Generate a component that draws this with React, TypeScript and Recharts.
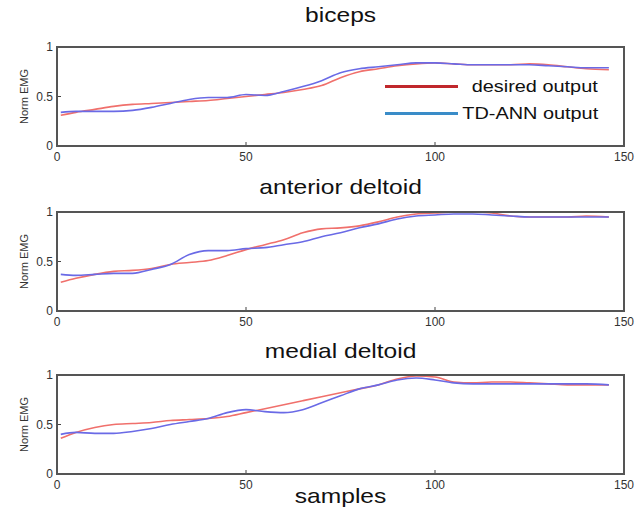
import React from 'react';
import { LineChart, Line, XAxis, YAxis } from 'recharts';

const samples = [1, 5, 10, 15, 20, 25, 30, 35, 40, 45, 50, 55, 60, 65, 70, 75, 80, 85, 90, 95, 100, 105, 110, 115, 120, 125, 130, 135, 140, 146];

const bicepsDesired = [0.31, 0.34, 0.37, 0.4, 0.42, 0.43, 0.44, 0.45, 0.46, 0.48, 0.5, 0.52, 0.54, 0.57, 0.61, 0.69, 0.75, 0.78, 0.81, 0.83, 0.84, 0.83, 0.82, 0.82, 0.82, 0.83, 0.82, 0.8, 0.78, 0.77];
const bicepsTdann = [0.34, 0.35, 0.35, 0.35, 0.36, 0.39, 0.43, 0.47, 0.49, 0.49, 0.52, 0.51, 0.55, 0.6, 0.66, 0.74, 0.78, 0.8, 0.82, 0.84, 0.84, 0.83, 0.82, 0.82, 0.82, 0.82, 0.81, 0.8, 0.79, 0.79];

const anteriorDesired = [0.29, 0.33, 0.37, 0.4, 0.41, 0.43, 0.47, 0.49, 0.51, 0.56, 0.62, 0.67, 0.72, 0.79, 0.83, 0.84, 0.86, 0.9, 0.95, 0.98, 0.99, 1.0, 1.0, 0.99, 0.96, 0.95, 0.95, 0.95, 0.96, 0.95];
const anteriorTdann = [0.37, 0.36, 0.37, 0.38, 0.38, 0.42, 0.47, 0.57, 0.61, 0.61, 0.63, 0.64, 0.67, 0.7, 0.75, 0.79, 0.84, 0.88, 0.93, 0.96, 0.97, 0.98, 0.98, 0.97, 0.96, 0.95, 0.95, 0.95, 0.95, 0.95];

const medialDesired = [0.36, 0.42, 0.47, 0.5, 0.51, 0.52, 0.54, 0.55, 0.56, 0.58, 0.62, 0.66, 0.7, 0.74, 0.78, 0.82, 0.86, 0.9, 0.96, 0.99, 0.98, 0.93, 0.92, 0.93, 0.93, 0.92, 0.91, 0.9, 0.9, 0.9];
const medialTdann = [0.4, 0.42, 0.41, 0.41, 0.43, 0.46, 0.5, 0.53, 0.56, 0.62, 0.65, 0.63, 0.62, 0.65, 0.72, 0.79, 0.86, 0.9, 0.95, 0.97, 0.95, 0.92, 0.91, 0.91, 0.91, 0.91, 0.91, 0.91, 0.91, 0.9];

const xTicks = [0, 50, 100, 150];
const yTicks = [0, 0.5, 1];
const xMax = 150;
const yMax = 1;
const titles = ['biceps', 'anterior deltoid', 'medial deltoid'];
const legendLabels = ['desired output', 'TD-ANN output'];
const xLabel = 'samples';
const yLabel = 'Norm EMG';

const FONT = 'Arial, "Liberation Sans", sans-serif';
const RED = '#f0706c';
const BLUE = '#6a6ae6';
const AXIS = '#444';

const CHART_W = 644;
const CHART_H = 140;
const MARGIN = { top: 17, right: 20, bottom: 4, left: 0 };
const Y_AXIS_W = 57;
const X_AXIS_H = 20;

function build(desired: number[], tdann: number[]) {
  return samples.map((x, i) => ({ x, desired: desired[i], tdann: tdann[i] }));
}

const tickStyle = { fontSize: 12, fill: '#333', fontFamily: FONT };
const axisLine = { stroke: AXIS, strokeWidth: 1.5 };
const tickLine = { stroke: AXIS };

function Panel({ data, top }: { data: any[]; top: number }) {
  const plotLeft = MARGIN.left + Y_AXIS_W;
  const plotTop = MARGIN.top;
  const plotW = CHART_W - MARGIN.right - plotLeft;
  const plotH = CHART_H - MARGIN.top - MARGIN.bottom - X_AXIS_H;
  return (
    <div style={{ position: 'absolute', left: 0, top, width: CHART_W, height: CHART_H }}>
      <LineChart width={CHART_W} height={CHART_H} data={data} margin={MARGIN}>
        <XAxis
          dataKey="x"
          type="number"
          domain={[0, xMax]}
          ticks={xTicks}
          height={X_AXIS_H}
          tickSize={-4}
          tickMargin={10}
          tick={tickStyle}
          axisLine={axisLine}
          tickLine={tickLine}
        />
        <YAxis
          type="number"
          domain={[0, yMax]}
          ticks={yTicks}
          width={Y_AXIS_W}
          tickSize={-4}
          tickMargin={8}
          tick={tickStyle}
          axisLine={axisLine}
          tickLine={tickLine}
          label={{ value: yLabel, angle: -90, position: 'insideLeft', offset: 24, style: { textAnchor: 'middle', fontSize: 11, fill: '#333', fontFamily: FONT } }}
        />
        <Line type="monotone" dataKey="desired" stroke={RED} strokeWidth={1.6} dot={false} isAnimationActive={false} />
        <Line type="monotone" dataKey="tdann" stroke={BLUE} strokeWidth={1.6} dot={false} isAnimationActive={false} />
      </LineChart>
      <div
        style={{
          position: 'absolute',
          left: plotLeft - 1,
          top: plotTop - 1,
          width: plotW + 2,
          height: plotH + 2,
          boxSizing: 'border-box',
          border: '2px solid #555',
          pointerEvents: 'none',
          zIndex: 2,
        }}
      />
    </div>
  );
}

function Title({ text, top }: { text: string; top: number }) {
  return (
    <div
      style={{
        position: 'absolute',
        left: 0,
        top,
        width: 681,
        textAlign: 'center',
        fontSize: 21,
        lineHeight: '26px',
        color: '#111',
        fontFamily: FONT,
        transform: 'scaleX(1.17)',
        transformOrigin: '340px 0',
      }}
    >
      {text}
    </div>
  );
}

function LegendRow({ color, label, top }: { color: string; label: string; top: number }) {
  return (
    <div style={{ position: 'absolute', left: 385, top, width: 213, height: 27, zIndex: 3 }}>
      <div style={{ position: 'absolute', left: 0, top: 12, width: 73, height: 3, background: color }} />
      <div
        style={{
          position: 'absolute',
          right: 0,
          top: 0,
          fontSize: 17,
          lineHeight: '27px',
          color: '#111',
          fontFamily: FONT,
          whiteSpace: 'nowrap',
          transform: 'scaleX(1.17)',
          transformOrigin: '100% 0',
        }}
      >
        {label}
      </div>
    </div>
  );
}

export default function App() {
  return (
    <div style={{ position: 'absolute', left: 0, top: 0, width: 644, height: 514, background: '#fff', overflow: 'hidden' }}>
      <Title text={titles[0]} top={2} />
      <Panel data={build(bicepsDesired, bicepsTdann)} top={30} />
      <LegendRow color="#c0282c" label={legendLabels[0]} top={73} />
      <LegendRow color="#3a8cc8" label={legendLabels[1]} top={100} />
      <Title text={titles[1]} top={174} />
      <Panel data={build(anteriorDesired, anteriorTdann)} top={195} />
      <Title text={titles[2]} top={338} />
      <Panel data={build(medialDesired, medialTdann)} top={358} />
      <Title text={xLabel} top={483} />
    </div>
  );
}
